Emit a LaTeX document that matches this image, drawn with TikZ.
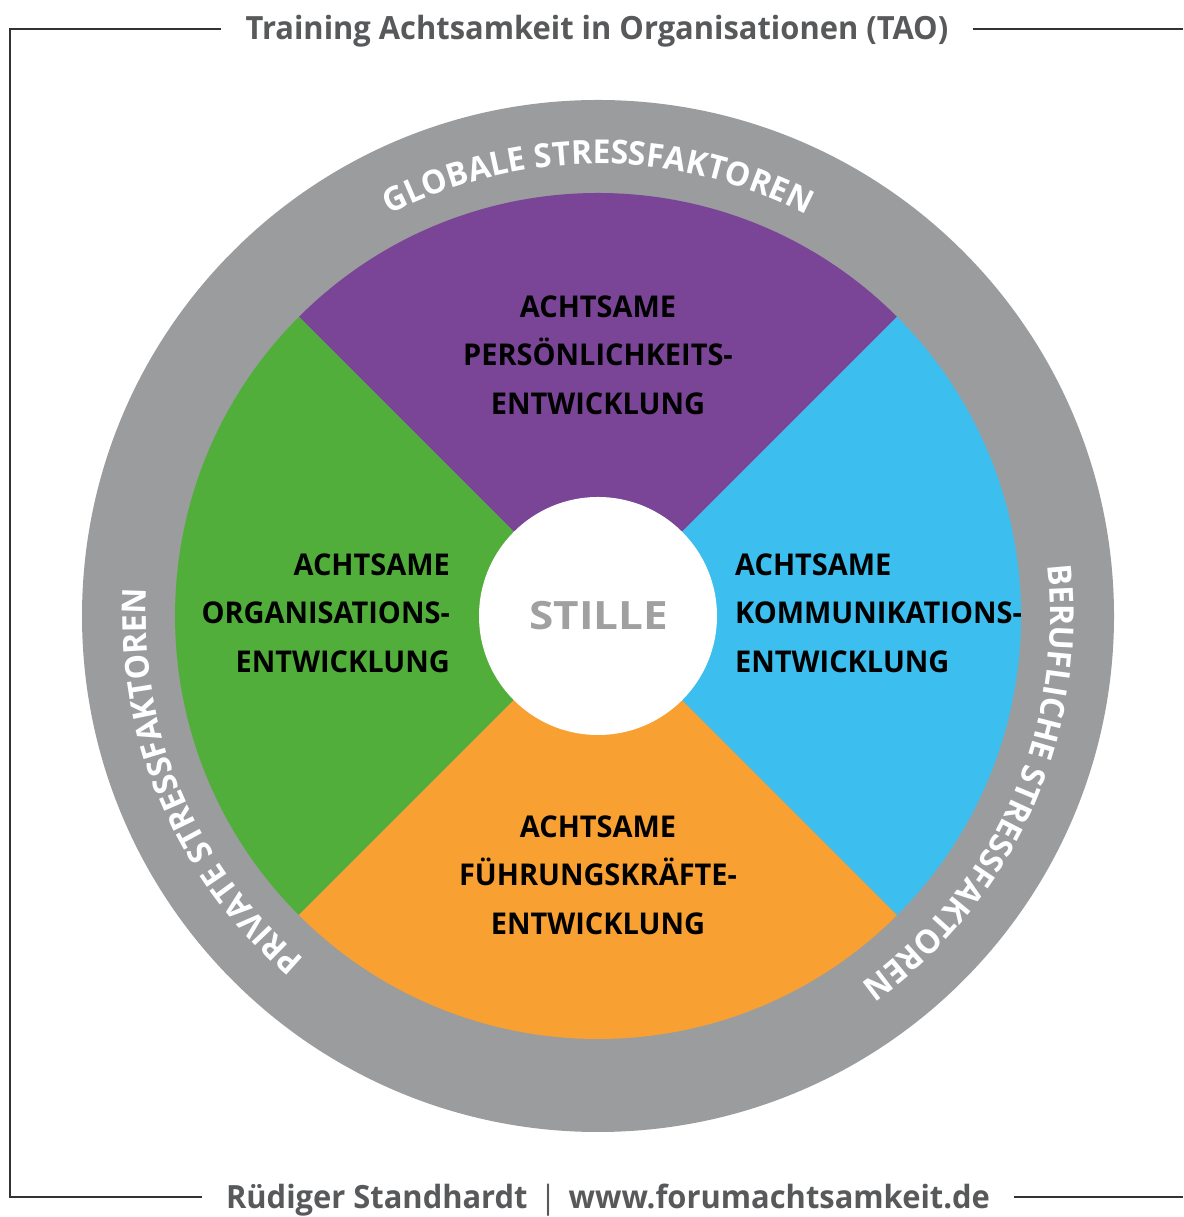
\documentclass[tikz,border=0pt]{standalone}
\usepackage{fontspec}
\usetikzlibrary{decorations.text}
\setmainfont{Open Sans}
\newfontfamily\titlefont[FakeStretch=0.965]{Open Sans}
\newfontfamily\labelfont[FakeStretch=0.965]{Open Sans}
\newfontfamily\stillefont[FakeStretch=1.13]{Open Sans}

\definecolor{ringgray}{HTML}{9B9C9E}
\definecolor{purp}{HTML}{7A4497}
\definecolor{sky}{HTML}{3CBEEE}
\definecolor{amber}{HTML}{F8A031}
\definecolor{leaf}{HTML}{52AE3A}
\definecolor{titlegray}{HTML}{58595B}
\definecolor{stillegray}{HTML}{A0A0A0}

\begin{document}
\begin{tikzpicture}[x=1pt,y=1pt]
			\tikzstyle{frame}=[draw=black!80, line width=1.6pt]
			\tikzstyle{head}=[
				font=\titlefont\bfseries\fontsize{32}{36}\selectfont,
				text=titlegray, inner xsep=24pt, inner ysep=0pt
			]
			\tikzstyle{field}=[
				font=\labelfont\bfseries\fontsize{30}{48.5}\selectfont,
				text=black, inner sep=0pt
			]
			\useasboundingbox (0,0) rectangle (1183,1217);
			\coordinate (tl) at (10,1188);
			\coordinate (tr) at (1183,1188);
			\coordinate (bl) at (10,20);
			\coordinate (br) at (1183,20);
			\node[head, anchor=base] (title) at (597,1177) {Training Achtsamkeit in Organisationen (TAO)};
			\node[head, anchor=base] (footer) at (608,9) {Rüdiger Standhardt\hspace{12pt}{\mdseries|}\hspace{12pt}www.forumachtsamkeit.de};
			\draw[frame] (tl -| title.west) -- (tl) -- (bl) -- (bl -| footer.west);
			\draw[frame] (tr -| title.east) -- (tr);
			\draw[frame] (br -| footer.east) -- (br);
			\begin{scope}[shift={(598,601)}]
				\fill[ringgray] (0,0) circle (516pt);
				\fill[purp] (0,0) -- (45:423pt) arc[start angle=45, end angle=135, radius=423pt] -- cycle;
				\fill[leaf] (0,0) -- (135:423pt) arc[start angle=135, end angle=225, radius=423pt] -- cycle;
				\fill[amber] (0,0) -- (225:423pt) arc[start angle=225, end angle=315, radius=423pt] -- cycle;
				\fill[sky] (0,0) -- (315:423pt) arc[start angle=-45, end angle=45, radius=423pt] -- cycle;
				\fill[white] (0,0) circle (119pt);
				\node[font=\stillefont\bfseries\fontsize{39}{39}\selectfont, text=stillegray] (stille) at (1,0) {STILLE};
				\node[field, align=center] (pers) at (0,261) {ACHTSAME\\PERSÖNLICHKEITS-\\ENTWICKLUNG};
				\node[field, align=center] (fuehr) at (0,-259) {ACHTSAME\\FÜHRUNGSKRÄFTE-\\ENTWICKLUNG};
				\node[field, align=right, anchor=east] (orga) at (-148,3) {ACHTSAME\\ORGANISATIONS-\\ENTWICKLUNG};
				\node[field, align=left, anchor=west] (komm) at (137,3) {ACHTSAME\\KOMMUNIKATIONS-\\ENTWICKLUNG};
				% stress factors round the ring
				\path[decorate, decoration={text along path, text align=center,
					text={|\color{white}\labelfont\bfseries\fontsize{33}{33}\selectfont|GLOBALE STRESSFAKTOREN}}]
					(150:452pt) arc[start angle=150, end angle=30, radius=452pt];
				\path[decorate, decoration={text along path, text align=center,
					text={|\color{white}\labelfont\bfseries\fontsize{33}{33}\selectfont|BERUFLICHE STRESSFAKTOREN}}]
					(35:452pt) arc[start angle=35, end angle=-83, radius=452pt];
				\path[decorate, decoration={text along path, text align=center,
					text={|\color{white}\labelfont\bfseries\fontsize{33}{33}\selectfont|PRIVATE STRESSFAKTOREN}}]
					(263:452pt) arc[start angle=263, end angle=143, radius=452pt];
			\end{scope}
		\end{tikzpicture}
\end{document}
